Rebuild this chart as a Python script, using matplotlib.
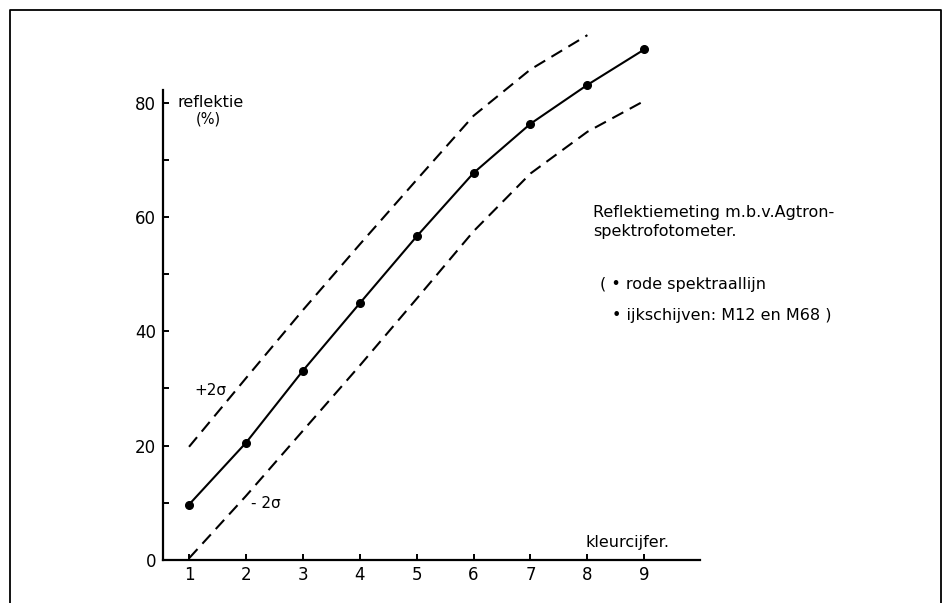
import matplotlib
matplotlib.use("Agg")
import matplotlib.pyplot as plt
from matplotlib.lines import Line2D

# === Données ===
kleurcijfer = [1, 2, 3, 4, 5, 6, 7, 8, 9]
reflektie = [9.7, 20.5, 33.1, 44.9, 56.6, 67.7, 76.3, 83.1, 89.3]

plus_x = [1, 2, 3, 4, 5, 6, 7, 8]
plus_2s = [19.8, 31.8, 43.7, 55.2, 66.5, 77.7, 85.8, 91.8]

min_x = [1, 2, 3, 4, 5, 6, 7, 8, 9]
min_2s = [0.3, 11.2, 22.6, 34.0, 45.7, 57.5, 67.6, 74.9, 80.3]

y_major = [0, 20, 40, 60, 80]
y_minor = [10, 30, 50, 70]

plt.rcParams['font.family'] = ['DejaVu Sans']

fig = plt.figure(figsize=(9.49, 6.03), dpi=100)
ax = fig.add_axes([0.1718, 0.0713, 0.5659, 0.7794])

# === Courbes ===
ax.plot(kleurcijfer, reflektie, color='black', lw=1.5, marker='o', markersize=5.5,
        clip_on=False)
ax.plot(plus_x, plus_2s, color='black', lw=1.5, linestyle=(0, (6, 3.5)), clip_on=False)
ax.plot(min_x, min_2s, color='black', lw=1.5, linestyle=(0, (6, 3.5)), clip_on=False)

ax.set_xlim(0.543, 9.98)
ax.set_ylim(0, 82.2)

for side in ['top', 'right']:
    ax.spines[side].set_visible(False)
for side in ['left', 'bottom']:
    ax.spines[side].set_linewidth(1.6)

ax.set_xticks(kleurcijfer)
ax.set_yticks(y_major)
ax.set_yticks(y_minor, minor=True)
ax.tick_params(axis='both', which='both', direction='in', length=4.5, width=1.4,
               labelsize=12)
ax.tick_params(axis='y', pad=5)
ax.tick_params(axis='x', pad=4)

# === Textes ===
ax.text(0.79, 80.1, "reflektie", fontsize=11.5, va='center', ha='left')
ax.text(1.33, 77.1, "(%)", fontsize=10.5, va='center', ha='center')
ax.text(1.37, 29.7, "+2σ", fontsize=11, va='center', ha='center')
ax.text(2.35, 9.8, "- 2σ", fontsize=11, va='center', ha='center')
ax.text(7.96, 3.1, "kleurcijfer.", fontsize=11.5, va='center', ha='left')

ax.text(8.1, 60.7, "Reflektiemeting m.b.v.Agtron-", fontsize=11.5, va='center', ha='left')
ax.text(8.1, 57.4, "spektrofotometer.", fontsize=11.5, va='center', ha='left')
ax.text(8.22, 48.1, "( • rode spektraallijn", fontsize=11.5, va='center', ha='left')
ax.text(8.43, 42.8, "• ijkschijven: M12 en M68 )", fontsize=11.5, va='center', ha='left')

# === Cadre ===
x_l, x_r, y_t = 10 / 949, 941 / 949, 1 - 10 / 603
fig.add_artist(Line2D([x_l, x_l, x_r, x_r], [0, y_t, y_t, 0],
                      transform=fig.transFigure, color='black', lw=1.3))

fig.savefig("out.png", dpi=100)
plt.close()
